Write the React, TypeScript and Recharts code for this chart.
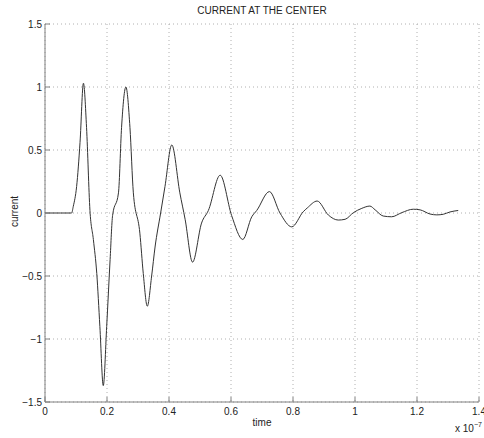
import React from "react";
import { LineChart, Line, XAxis, YAxis, CartesianGrid } from "recharts";

// time in units of 1e-7 s
const timeVals = [
  0, 0.05, 0.086, 0.091, 0.102, 0.113, 0.124, 0.134, 0.145, 0.156, 0.167, 0.177,
  0.188, 0.199, 0.21, 0.218, 0.237, 0.247, 0.261, 0.274, 0.285, 0.306, 0.317,
  0.33, 0.344, 0.355, 0.373, 0.387, 0.409, 0.435, 0.452, 0.476, 0.505, 0.527,
  0.565, 0.602, 0.638, 0.667, 0.683, 0.724, 0.758, 0.796, 0.833, 0.846, 0.878,
  0.914, 0.946, 0.968, 0.995, 1.022, 1.048, 1.065, 1.091, 1.118, 1.151, 1.188,
  1.21, 1.242, 1.264, 1.285, 1.306, 1.333,
];
const currentVals = [
  0, 0, 0, 0.05, 0.21, 0.56, 1.03, 0.68, 0.02, -0.21, -0.48, -0.9,
  -1.37, -0.9, -0.37, -0.02, 0.16, 0.68, 1.0, 0.68, 0.16, -0.16, -0.48,
  -0.74, -0.5, -0.27, 0, 0.21, 0.54, 0.16, -0.05, -0.39, -0.08, 0.02,
  0.3, -0.02, -0.21, -0.03, 0.02, 0.17, 0, -0.11, 0.01, 0.04, 0.095,
  -0.016, -0.056, -0.05, 0.003, 0.037, 0.055, 0.025, -0.024, -0.03, 0.003, 0.03,
  0.025, -0.008, -0.015, -0.01, 0.008, 0.02,
];
const xTicks = [0, 0.2, 0.4, 0.6, 0.8, 1, 1.2, 1.4];
const yTicks = [-1.5, -1, -0.5, 0, 0.5, 1, 1.5];

const chartData = timeVals.map((t, i) => ({ time: t, current: currentVals[i] }));

const FONT = "'Liberation Sans', Arial, Helvetica, sans-serif";
const FRAME = "#808080";
const INK = "#222";

const fmt = (v: number) => {
  const r = Math.round(v * 10) / 10;
  return r < 0 ? "\u2212" + String(-r) : String(r);
};

const BottomTick = ({ x, y, payload }: any) => (
  <g>
    <line x1={x} y1={y} x2={x} y2={y - 5} stroke={FRAME} />
    <text x={x} y={y + 13} textAnchor="middle" fill={INK} fontSize={10} fontFamily={FONT}>
      {fmt(payload.value)}
    </text>
  </g>
);
const TopTick = ({ x, y }: any) => <line x1={x} y1={y} x2={x} y2={y + 5} stroke={FRAME} />;
const LeftTick = ({ x, y, payload }: any) => (
  <g>
    <line x1={x} y1={y} x2={x + 5} y2={y} stroke={FRAME} />
    <text x={x - 3} y={y} dy="0.35em" textAnchor="end" fill={INK} fontSize={10} fontFamily={FONT}>
      {fmt(payload.value)}
    </text>
  </g>
);
const RightTick = ({ x, y }: any) => <line x1={x} y1={y} x2={x - 5} y2={y} stroke={FRAME} />;

export default function App() {
  return (
    <div style={{ position: "absolute", left: 0, top: 0, width: 484, height: 438, background: "#fff", fontFamily: FONT }}>
      <LineChart width={484} height={438} data={chartData} margin={{ top: 24, right: 5, bottom: 16, left: 0 }}>
        <CartesianGrid stroke="#b0b0b0" strokeDasharray="1 3" />
        <XAxis
          dataKey="time"
          type="number"
          domain={[0, 1.4]}
          ticks={xTicks}
          interval={0}
          height={20}
          tickSize={0}
          tickMargin={0}
          tickLine={false}
          axisLine={{ stroke: FRAME }}
          tick={<BottomTick />}
        />
        <XAxis
          xAxisId="top"
          orientation="top"
          dataKey="time"
          type="number"
          domain={[0, 1.4]}
          ticks={xTicks}
          interval={0}
          height={0}
          tickSize={0}
          tickMargin={0}
          tickLine={false}
          axisLine={{ stroke: FRAME }}
          tick={<TopTick />}
        />
        <YAxis
          type="number"
          domain={[-1.5, 1.5]}
          ticks={yTicks}
          interval={0}
          width={45}
          tickSize={0}
          tickMargin={0}
          tickLine={false}
          axisLine={{ stroke: FRAME }}
          tick={<LeftTick />}
        />
        <YAxis
          yAxisId="right"
          orientation="right"
          type="number"
          domain={[-1.5, 1.5]}
          ticks={yTicks}
          interval={0}
          width={0}
          tickSize={0}
          tickMargin={0}
          tickLine={false}
          axisLine={{ stroke: FRAME }}
          tick={<RightTick />}
        />
        <Line
          type="monotone"
          dataKey="current"
          stroke="#333"
          strokeWidth={1}
          dot={false}
          isAnimationActive={false}
        />
      </LineChart>
      <div style={{ position: "absolute", left: 0, width: 524, top: 5, textAlign: "center", fontSize: 10, color: INK }}>
        CURRENT AT THE CENTER
      </div>
      <div style={{ position: "absolute", left: 242, width: 40, top: 417, textAlign: "center", fontSize: 10, color: INK }}>
        time
      </div>
      <div
        style={{
          position: "absolute",
          left: -6,
          top: 206,
          width: 40,
          textAlign: "center",
          fontSize: 10,
          color: INK,
          transform: "rotate(-90deg)",
        }}
      >
        current
      </div>
      <div style={{ position: "absolute", left: 455, top: 423, fontSize: 10, color: INK, whiteSpace: "nowrap" }}>
        x 10<span style={{ fontSize: 7, position: "relative", top: -5 }}>{"\u22127"}</span>
      </div>
    </div>
  );
}
